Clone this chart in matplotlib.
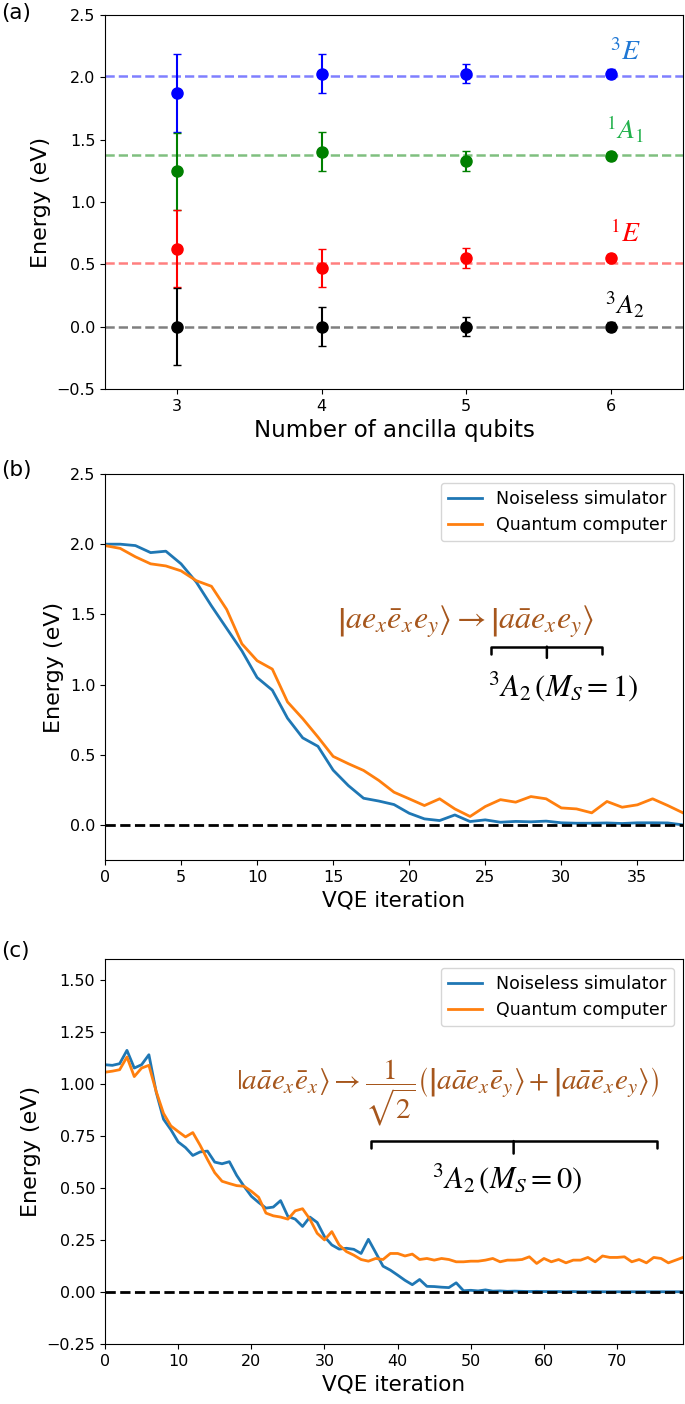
import numpy as np
import matplotlib
matplotlib.use('Agg')
import matplotlib.pyplot as plt

plt.rcParams['mathtext.fontset'] = 'stix'
plt.rcParams['font.size'] = 11

# (a) energies vs number of ancilla qubits
n_anc = [3, 4, 5, 6]
err = [0.31, 0.155, 0.078, 0.035]
E_3E = [1.875, 2.03, 2.03, 2.03]
E_1A1 = [1.245, 1.405, 1.33, 1.37]
E_1E = [0.625, 0.47, 0.55, 0.55]
E_3A2 = [0.0, 0.0, 0.0, 0.0]
exact = [2.01, 1.38, 0.51, 0.0]
state_names = ['$^3E$', '$^1A_1$', '$^1E$', '$^3A_2$']
state_label_y = [2.2, 1.58, 0.74, 0.17]

# (b) VQE for 3A2 (Ms=1)
sim_b = [2.0, 2.0, 1.99, 1.94, 1.95, 1.86, 1.73, 1.56, 1.40, 1.24,
         1.05, 0.96, 0.76, 0.62, 0.56, 0.39, 0.28, 0.19, 0.17, 0.145,
         0.083, 0.043, 0.031, 0.071, 0.024, 0.036, 0.019, 0.025, 0.022, 0.027,
         0.015, 0.012, 0.012, 0.014, 0.010, 0.015, 0.015, 0.014, 0.0]
qc_b = [1.99, 1.97, 1.91, 1.86, 1.845, 1.81, 1.74, 1.70, 1.535, 1.29,
        1.17, 1.11, 0.876, 0.757, 0.626, 0.488, 0.436, 0.388, 0.317, 0.233,
        0.186, 0.138, 0.186, 0.114, 0.06, 0.131, 0.18, 0.162, 0.202, 0.186,
        0.121, 0.114, 0.086, 0.167, 0.126, 0.143, 0.186, 0.138, 0.086]

# (c) VQE for 3A2 (Ms=0)
sim_c = [1.092, 1.089, 1.097, 1.161, 1.076, 1.092, 1.14, 0.96, 0.83, 0.78,
         0.721, 0.694, 0.656, 0.673, 0.677, 0.624, 0.616, 0.626, 0.56, 0.508,
         0.46, 0.43, 0.403, 0.408, 0.439, 0.363, 0.35, 0.315, 0.36, 0.334,
         0.266, 0.226, 0.206, 0.21, 0.205, 0.185, 0.253, 0.189, 0.124, 0.105,
         0.081, 0.056, 0.035, 0.06, 0.027, 0.026, 0.023, 0.021, 0.044, 0.006,
         0.008, 0.005, 0.01, 0.004, 0.005, 0.003, 0.004, 0.003, 0.002, 0.003,
         0.002, 0.002, 0.002, 0.001, 0.002, 0.001, 0.001, 0.002, 0.001, 0.001,
         0.001, 0.001, 0.001, 0.001, 0.001, 0.001, 0.001, 0.001, 0.001, 0.001]
qc_c = [1.056, 1.061, 1.068, 1.129, 1.035, 1.076, 1.089, 0.963, 0.858, 0.798,
        0.771, 0.745, 0.766, 0.705, 0.637, 0.573, 0.532, 0.521, 0.511, 0.508,
        0.484, 0.455, 0.379, 0.366, 0.36, 0.35, 0.39, 0.40, 0.35, 0.282,
        0.25, 0.29, 0.226, 0.194, 0.177, 0.156, 0.148, 0.161, 0.156, 0.185,
        0.185, 0.173, 0.182, 0.156, 0.161, 0.153, 0.161, 0.156, 0.145, 0.145,
        0.148, 0.148, 0.153, 0.161, 0.145, 0.153, 0.153, 0.156, 0.169, 0.137,
        0.161, 0.145, 0.156, 0.14, 0.153, 0.153, 0.166, 0.145, 0.173, 0.166,
        0.166, 0.169, 0.145, 0.156, 0.14, 0.166, 0.161, 0.14, 0.153, 0.166]

brown = '#a6561c'

fig = plt.figure(figsize=(6.85, 14.04), dpi=100)
W, H = 685, 1404
def box(l, t, r, b):
    return [l / W, 1 - b / H, (r - l) / W, (b - t) / H]

ax1 = fig.add_axes(box(105, 15, 683, 389))
ax2 = fig.add_axes(box(105, 474, 683, 860))
ax3 = fig.add_axes(box(105, 959, 683, 1344))

# ---- (a)
pt_colors = ['blue', 'green', 'red', 'black']
txt_colors = ['#1f77d4', '#22b14c', 'red', 'black']
for vals, e0, pc, tc, nm, ly in zip([E_3E, E_1A1, E_1E, E_3A2], exact, pt_colors,
                                    txt_colors, state_names, state_label_y):
    ax1.axhline(e0, color=pc, ls='--', lw=1.8, alpha=0.5)
    ax1.errorbar(n_anc, vals, yerr=err, fmt='o', color=pc, ms=8, capsize=3, elinewidth=1.5)
    ax1.text(6.1, ly, nm, color=tc, fontsize=20, ha='center', va='center')
ax1.set_xlim(2.5, 6.5)
ax1.set_ylim(-0.5, 2.5)
ax1.set_xticks(n_anc)
ax1.set_xlabel('Number of ancilla qubits', fontsize=16.5)
ax1.set_ylabel('Energy (eV)', fontsize=16)

# ---- (b)
it_b = np.arange(len(sim_b))
ax2.plot(it_b, sim_b, color='tab:blue', lw=2, label='Noiseless simulator')
ax2.plot(it_b, qc_b, color='tab:orange', lw=2, label='Quantum computer')
ax2.axhline(0, color='k', ls='--', lw=2)
ax2.set_xlim(0, 38)
ax2.set_ylim(-0.25, 2.5)
ax2.set_xlabel('VQE iteration', fontsize=15.5)
ax2.set_ylabel('Energy (eV)', fontsize=16)
ax2.legend(loc='upper right', fontsize=12.5)
ax2.text(23.7, 1.45, r'$\left|ae_x\bar{e}_xe_y\right\rangle \rightarrow \left|a\bar{a}e_xe_y\right\rangle$',
         color=brown, fontsize=23, ha='center', va='center')
ax2.annotate('', xy=(29.05, 1.27), xytext=(29.05, 1.19),
             arrowprops=dict(arrowstyle='-[, widthB=3.63, lengthB=-0.45', lw=1.8, color='k',
                             shrinkA=0, shrinkB=0))
ax2.text(30.1, 0.99, r'$^3A_2\,(M_S=1)$', fontsize=22, ha='center', va='center')

# ---- (c)
it_c = np.arange(len(sim_c))
ax3.plot(it_c, sim_c, color='tab:blue', lw=2, label='Noiseless simulator')
ax3.plot(it_c, qc_c, color='tab:orange', lw=2, label='Quantum computer')
ax3.axhline(0, color='k', ls='--', lw=2)
ax3.set_xlim(0, 79)
ax3.set_ylim(-0.25, 1.6)
ax3.set_yticks([-0.25, 0, 0.25, 0.5, 0.75, 1.0, 1.25, 1.5])
ax3.set_xlabel('VQE iteration', fontsize=15.5)
ax3.set_ylabel('Energy (eV)', fontsize=16)
ax3.legend(loc='upper right', fontsize=12.5)
ax3.text(46.8, 0.96, r'$|a\bar{a}e_x\bar{e}_x\rangle \rightarrow \dfrac{1}{\sqrt{2}}\left(\left|a\bar{a}e_x\bar{e}_y\right\rangle + \left|a\bar{a}\bar{e}_xe_y\right\rangle\right)$',
         color=brown, fontsize=21, ha='center', va='center')
ax3.annotate('', xy=(55.85, 0.725), xytext=(55.85, 0.665),
             arrowprops=dict(arrowstyle='-[, widthB=9.36, lengthB=-0.45', lw=1.8, color='k',
                             shrinkA=0, shrinkB=0))
ax3.text(55.0, 0.548, r'$^3A_2\,(M_S=0)$', fontsize=22, ha='center', va='center')

for ax in (ax1, ax2, ax3):
    ax.tick_params(labelsize=11.5)

fig.text(0.002, 0.991, '(a)', fontsize=15.5, va='center')
fig.text(0.002, 0.665, '(b)', fontsize=15.5, va='center')
fig.text(0.002, 0.323, '(c)', fontsize=15.5, va='center')

fig.savefig('out.png', dpi=100)
